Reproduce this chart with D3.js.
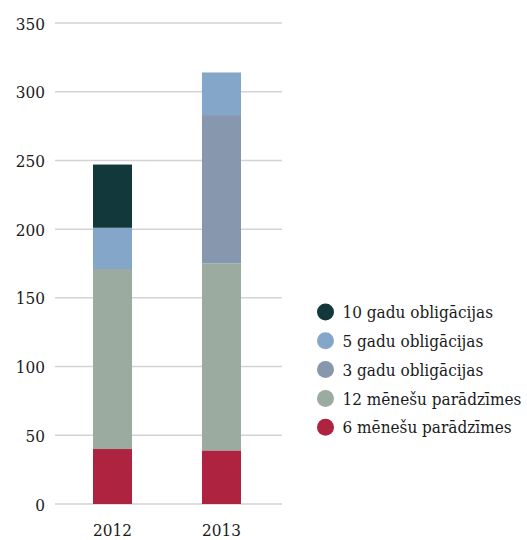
<!DOCTYPE html>
<html>
<head>
<meta charset="utf-8">
<script src="https://cdn.jsdelivr.net/npm/d3@7"></script>
<style>
	body { margin: 0; background: #fff; }
</style>
</head>
<body>
<div id="barChart"></div>
<script>
const years = ["2012", "2013"];

const seriesNames = ["6 mēnešu parādzīmes", "12 mēnešu parādzīmes", "3 gadu obligācijas", "5 gadu obligācijas", "10 gadu obligācijas"];

const months6 = [40, 39];
const months12 = [131, 136];
const years3 = [0, 108];
const years5 = [30, 31];
const years10 = [46, 0];

const yTicks = [0, 50, 100, 150, 200, 250, 300, 350];

const colors = ["#ae2340", "#9bab9f", "#8797ae", "#84a6c9", "#12383b"];

const fontFamily = "'DejaVu Serif Condensed', 'DejaVu Serif'";

function init() {
	width = 527;
	height = 540;

	const values = [months6, months12, years3, years5, years10];
	const data = years.map((yr, i) => {
		const row = { year: yr };
		seriesNames.forEach((s, k) => (row[s] = values[k][i]));
		return row;
	});

	const stack = d3.stack().keys(seriesNames)(data);

	x = d3
		.scaleBand()
		.domain(years)
		.range([93, 241])
		.paddingInner(0.642)
		.paddingOuter(0);

	y = d3.scaleLinear().domain([0, 350]).range([504, 23]);

	const svg = d3
		.select("div#barChart")
		.append("svg")
		.attr("width", width)
		.attr("height", height);

	// grid
	svg
		.append("g")
		.selectAll("line")
		.data(yTicks)
		.join("line")
		.attr("x1", 55)
		.attr("x2", 282)
		.attr("y1", (d) => y(d))
		.attr("y2", (d) => y(d))
		.attr("stroke", "#d3d3d3")
		.attr("stroke-width", 1.5);

	const yAxis = (g) =>
		g
			.attr("transform", "translate(45, 0)")
			.call(d3.axisLeft(y).tickValues(yTicks).tickSize(0).tickPadding(0))
			.call((g) => g.select(".domain").remove())
			.call((g) => g.selectAll("text").attr("dy", "0.36em"));

	const xAxis = (g) =>
		g
			.attr("transform", "translate(0, 504)")
			.call(d3.axisBottom(x).tickSize(0).tickPadding(20))
			.call((g) => g.select(".domain").remove());

	svg.append("g").call(yAxis);
	svg.append("g").call(xAxis);

	svg
		.append("g")
		.selectAll("g")
		.data(stack)
		.join("g")
		.attr("fill", (d, i) => colors[i])
		.selectAll("rect")
		.data((d) => d)
		.join("rect")
		.attr("x", (d) => x(d.data.year))
		.attr("width", x.bandwidth())
		.attr("y", (d) => y(d[1]))
		.attr("height", (d) => y(d[0]) - y(d[1]));

	// legend, top entry is the last series
	const legend = svg
		.append("g")
		.selectAll("g")
		.data(seriesNames.slice().reverse())
		.join("g")
		.attr("transform", (d, i) => `translate(325.5, ${312 + i * 28.8})`);

	legend
		.append("circle")
		.attr("r", 8.5)
		.attr("fill", (d) => colors[seriesNames.indexOf(d)]);

	legend
		.append("text")
		.attr("x", 17)
		.attr("dy", "0.36em")
		.text((d) => d);

	svg
		.selectAll("text")
		.style("font-family", fontFamily)
		.style("font-size", "17px")
		.style("fill", "#1a1a1a");
}

init();
</script>
</body>
</html>
